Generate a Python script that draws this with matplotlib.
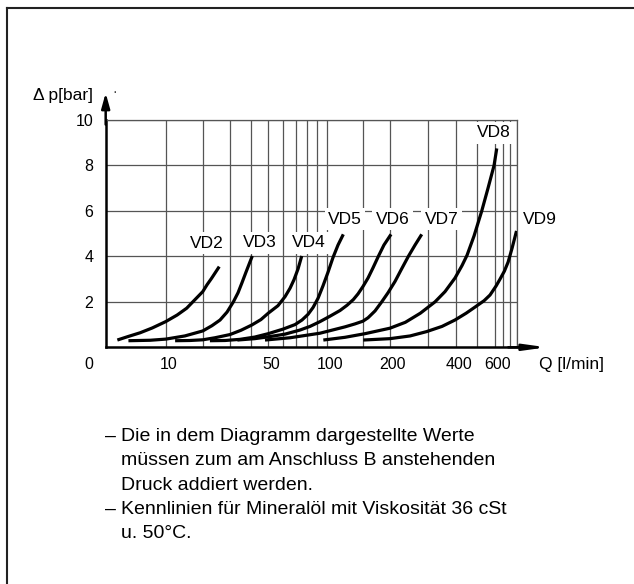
import numpy as np
import matplotlib.pyplot as plt
import matplotlib.transforms as mtransforms
from matplotlib.lines import Line2D

plt.rcParams['font.family'] = ['Liberation Sans', 'DejaVu Sans']

# flow Q [l/min] and pressure drop dp [bar]
vd2_q = [1.5, 3, 5, 7.2, 10, 12.7, 15.2, 17.6, 20, 21.4, 23, 24.4, 25.8]
vd2_p = [0.32, 0.47, 0.64, 0.85, 1.13, 1.42, 1.72, 2.1, 2.45, 2.75, 3.04, 3.3, 3.55]
vd3_q = [3.1, 6.8, 10, 14.7, 20, 23.1, 26.1, 28.9, 31.6, 33.7, 35.6, 37.5, 39.3, 40.8]
vd3_p = [0.29, 0.31, 0.36, 0.5, 0.72, 0.95, 1.2, 1.55, 2.0, 2.4, 2.85, 3.3, 3.7, 4.02]
vd4_q = [12.2, 16.1, 20, 24.2, 30.1, 35.1, 40.5, 45.6, 50, 56.4, 61.5, 65.3, 68.5, 71.8, 75]
vd4_p = [0.29, 0.3, 0.33, 0.42, 0.56, 0.75, 0.98, 1.22, 1.5, 1.83, 2.23, 2.6, 2.98, 3.45, 4.02]
vd5_q = [22.4, 28.1, 34.6, 42.1, 50, 60, 69.3, 75.2, 80.7, 85.5, 90.5, 95.8, 101.4,
         107.3, 113.5, 120.4]
vd5_p = [0.29, 0.3, 0.35, 0.45, 0.6, 0.8, 1.0, 1.2, 1.45, 1.75, 2.15, 2.7, 3.3,
         3.95, 4.5, 4.97]
vd6_q = [33.4, 42.1, 50, 61.5, 73.5, 82.6, 92.6, 103.8, 116.1, 125.5, 134.5, 141.6,
         149.6, 158, 166.8, 176.6, 187.6, 202.4]
vd6_p = [0.32, 0.38, 0.46, 0.58, 0.76, 0.92, 1.13, 1.37, 1.62, 1.85, 2.1, 2.35,
         2.68, 3.05, 3.5, 4.0, 4.5, 4.97]
vd7_q = [48, 65.3, 92.6, 122.7, 137, 149.5, 158, 170.4, 183.2, 196, 211.3, 225.2,
         243.4, 261.3, 280.4]
vd7_p = [0.32, 0.42, 0.62, 0.9, 1.03, 1.15, 1.3, 1.6, 2.0, 2.4, 2.9, 3.4,
         4.0, 4.5, 4.97]
vd8_q = [96.2, 122.7, 152.9, 200, 235.8, 276.3, 322.5, 358, 397.4, 427.5, 450.2,
         484.1, 524.3, 559.3, 595.2, 612]
vd8_p = [0.32, 0.44, 0.6, 0.84, 1.1, 1.5, 2.0, 2.45, 3.05, 3.6, 4.05,
         4.9, 6.0, 7.0, 8.0, 8.75]
vd9_q = [150, 200, 248, 295, 347, 397, 446, 494, 537, 571, 608, 633, 662, 688, 716, 750]
vd9_p = [0.32, 0.38, 0.5, 0.69, 0.92, 1.2, 1.5, 1.8, 2.05, 2.3, 2.7, 3.0, 3.35,
         3.75, 4.35, 5.12]

curves = [vd2_q, vd3_q, vd4_q, vd5_q, vd6_q, vd7_q, vd8_q, vd9_q]
values = [vd2_p, vd3_p, vd4_p, vd5_p, vd6_p, vd7_p, vd8_p, vd9_p]
names = ['VD2', 'VD3', 'VD4', 'VD5', 'VD6', 'VD7', 'VD8', 'VD9']
label_q = [21.3, 45, 81.6, 122.7, 206, 346, 594, 955]
label_p = [4.58, 4.6, 4.6, 5.64, 5.64, 5.64, 9.43, 5.64]

q_grid = [10, 20, 30, 40, 50, 60, 70, 80, 90, 100, 150, 200, 300, 400,
          500, 600, 650, 700, 750]
q_ticks = [10, 50, 100, 200, 400, 600]
p_ticks = [2, 4, 6, 8, 10]

notes = ['Die in dem Diagramm dargestellte Werte',
         'müssen zum am Anschluss B anstehenden',
         'Druck addiert werden.',
         'Kennlinien für Mineralöl mit Viskosität 36 cSt',
         'u. 50°C.']
note_dash = [True, False, False, True, False]


def fwd(q):
    return np.log(np.asarray(q, dtype=float) + 12)


def inv(v):
    return np.exp(v) - 12


fig = plt.figure(figsize=(6.34, 5.84), dpi=100)
ax = fig.add_axes([0.1667, 0.4053, 0.648, 0.3892])
ax.set_xscale('function', functions=(fwd, inv))
ax.set_xlim(0, 750)
ax.set_ylim(0, 10)

ax.set_xticks(q_ticks)
ax.set_xticklabels([str(q) for q in q_ticks])
ax.set_xticks(q_grid, minor=True)
ax.set_yticks(p_ticks)
ax.tick_params(which='both', length=0, labelsize=11.5)
ax.tick_params(axis='x', pad=7)
ax.tick_params(axis='y', pad=9)
ax.grid(which='both', color='#555555', lw=0.9)

# the printed tick numbers sit a little right of their grid lines
shift = mtransforms.ScaledTranslation(3 / 100, 0, fig.dpi_scale_trans)
for lab in ax.get_xticklabels():
    lab.set_transform(lab.get_transform() + shift)

for side in ['top', 'right']:
    ax.spines[side].set_color('#555555')
    ax.spines[side].set_linewidth(0.9)
for side in ['left', 'bottom']:
    ax.spines[side].set_color('black')
    ax.spines[side].set_linewidth(1.8)

for q, p in zip(curves, values):
    ax.plot(q, p, color='black', lw=2.3, solid_capstyle='butt', zorder=4)

for name, q, p in zip(names, label_q, label_p):
    ax.text(q, p, name, ha='center', va='center', fontsize=12.5, zorder=5,
            clip_on=False,
            bbox=dict(boxstyle='square,pad=0.2', facecolor='white', edgecolor='none'))

# axis arrows
ax.annotate('', xy=(0, 1.119), xytext=(0, 0.98), xycoords='axes fraction',
            annotation_clip=False,
            arrowprops=dict(arrowstyle='-|>,head_length=0.9,head_width=0.25',
                            color='black', lw=1.8, shrinkA=0, shrinkB=0))
ax.annotate('', xy=(1.0735, 0), xytext=(0.98, 0), xycoords='axes fraction',
            annotation_clip=False,
            arrowprops=dict(arrowstyle='-|>,head_length=1.3,head_width=0.18',
                            color='black', lw=1.8, shrinkA=0, shrinkB=0))

ax.annotate('0', xy=(0, 0), xycoords='axes fraction', xytext=(-12.5, -7),
            textcoords='offset points', ha='center', va='top', fontsize=11.5)
ax.annotate('Q [l/min]', xy=(1.134, 0), xycoords='axes fraction', xytext=(0, -7),
            textcoords='offset points', ha='center', va='top', fontsize=12.5)
ax.text(-0.031, 1.11, 'Δ p[bar]', transform=ax.transAxes, ha='right',
        va='center', fontsize=12.5)
fig.text(0.181, 0.8425, '·', ha='center', va='center', fontsize=10, color='#333333')

# footnotes
y = 0.2522
for line, dash in zip(notes, note_dash):
    if dash:
        fig.text(0.1656, y, '–', ha='left', va='center', fontsize=14)
    fig.text(0.1909, y, line, ha='left', va='center', fontsize=14)
    y -= 0.0414

# page frame (top and left edges only are visible)
fig.add_artist(Line2D([7 / 634, 1], [1 - 8 / 584] * 2, transform=fig.transFigure,
                      color='#222222', lw=1.5))
fig.add_artist(Line2D([7 / 634] * 2, [0, 1 - 8 / 584], transform=fig.transFigure,
                      color='#222222', lw=1.5))

fig.savefig('out.png', dpi=100)
